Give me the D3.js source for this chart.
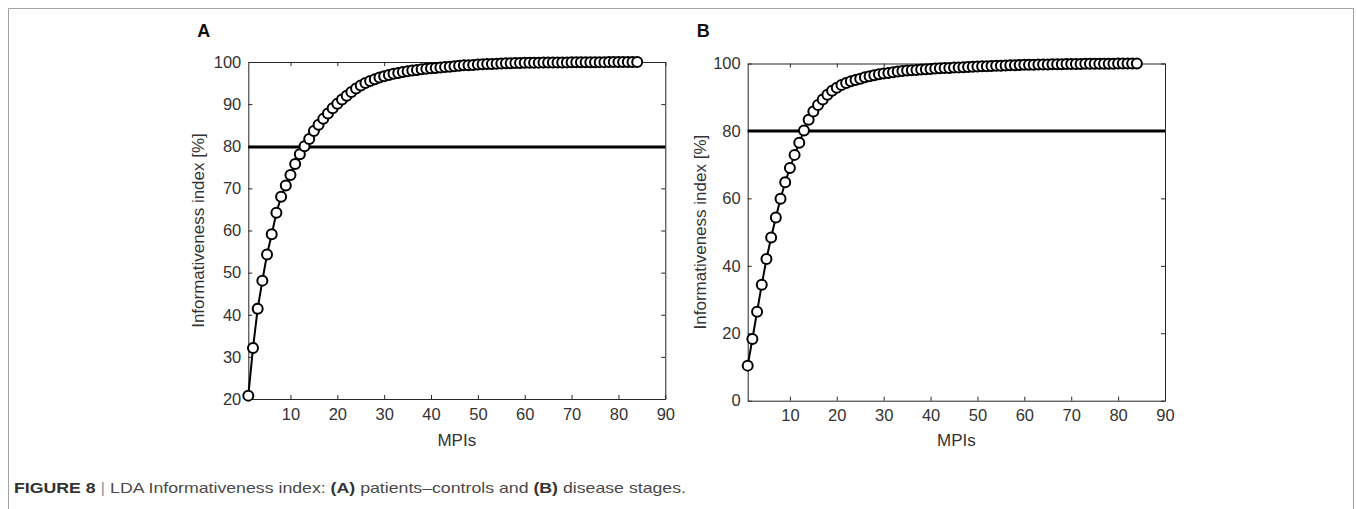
<!DOCTYPE html>
<html>
<head>
<meta charset="utf-8">
<script src="https://cdn.jsdelivr.net/npm/d3@7"></script>
<style>
  body { margin: 0; background: #fff; }
  svg { display: block; }
  .tick text { font-family: "Liberation Sans", Arial, sans-serif; font-size: 16.5px; fill: #333; }
  .axis path, .axis line { stroke: #262626; }
</style>
</head>
<body>
<div id="chart"></div>
<script>
// MPI index (x)
var mpis = [1,2,3,4,5,6,7,8,9,10,11,12,13,14,15,16,17,18,19,20,21,22,23,24,25,26,27,28,29,30,
  31,32,33,34,35,36,37,38,39,40,41,42,43,44,45,46,47,48,49,50,51,52,53,54,55,56,57,58,59,60,
  61,62,63,64,65,66,67,68,69,70,71,72,73,74,75,76,77,78,79,80,81,82,83,84];

// A: patients-controls
var infoA = [20.8,32.1,41.4,48.1,54.3,59.1,64.2,68.0,70.7,73.2,75.8,78.1,80.0,81.7,83.6,85.1,86.5,87.8,89.0,90.1,
  91.1,92.0,92.9,93.7,94.4,95.0,95.5,95.9,96.3,96.6,96.9,97.2,97.4,97.6,97.8,98.0,98.1,98.3,98.4,98.5,
  98.6,98.7,98.8,98.9,99.0,99.1,99.2,99.25,99.3,99.4,99.45,99.5,99.55,99.6,99.65,99.7,99.72,99.75,99.78,99.8,
  99.82,99.84,99.85,99.86,99.87,99.88,99.89,99.9,99.91,99.92,99.93,99.94,99.95,99.96,99.96,99.97,99.97,99.98,99.98,99.99,
  99.99,100,100,100];

// B: disease stages
var infoB = [10.4,18.3,26.4,34.4,42.0,48.4,54.3,59.9,64.8,69.0,72.9,76.5,80.1,83.3,85.8,87.7,89.3,90.7,91.9,92.8,
  93.6,94.2,94.7,95.1,95.5,95.9,96.2,96.5,96.8,97.0,97.2,97.4,97.6,97.8,97.9,98.0,98.1,98.2,98.3,98.4,
  98.5,98.6,98.65,98.7,98.8,98.85,98.9,98.95,99.0,99.1,99.15,99.2,99.25,99.3,99.35,99.4,99.45,99.5,99.55,99.6,
  99.62,99.65,99.67,99.7,99.72,99.75,99.77,99.8,99.82,99.85,99.87,99.88,99.9,99.91,99.92,99.93,99.94,99.95,99.96,99.97,
  99.98,99.99,100,100];

var thresholdA = 79.8;
var thresholdB = 80;

var xTicks = [10,20,30,40,50,60,70,80,90];
var yTicksA = [20,30,40,50,60,70,80,90,100];
var yTicksB = [0,20,40,60,80,100];

var W = 1357, H = 509;
var svg = d3.select("#chart").append("svg").attr("width", W).attr("height", H);

// outer frame (top, left, right)
svg.append("path")
    .attr("d", "M8.5," + H + "V8.5H1353.5V" + H)
    .attr("fill", "none")
    .attr("stroke", "#a0a0a0")
    .attr("stroke-width", 1);

drawPanel({ label: "A", left: 248.3, right: 665.3, top: 62, bottom: 399,
  yDomain: [20, 100], yTicks: yTicksA, values: infoA, threshold: thresholdA, titleX: 198 });
drawPanel({ label: "B", left: 747.7, right: 1165, top: 63.5, bottom: 400.7,
  yDomain: [0, 100], yTicks: yTicksB, values: infoB, threshold: thresholdB, titleX: 700 });

function drawPanel(p) {
  var x = d3.scaleLinear().domain([1, 90]).range([p.left, p.right]);
  var y = d3.scaleLinear().domain(p.yDomain).range([p.bottom, p.top]);
  var g = svg.append("g");

  // box axes with inward ticks
  g.append("g").attr("class", "axis")
      .attr("transform", "translate(0," + p.bottom + ")")
      .call(d3.axisBottom(x).tickValues(xTicks).tickSizeInner(-4).tickSizeOuter(0).tickPadding(9));
  g.append("g").attr("class", "axis")
      .attr("transform", "translate(0," + p.top + ")")
      .call(d3.axisTop(x).tickValues(xTicks).tickSizeInner(-4).tickSizeOuter(0).tickFormat(""));
  g.append("g").attr("class", "axis")
      .attr("transform", "translate(" + p.left + ",0)")
      .call(d3.axisLeft(y).tickValues(p.yTicks).tickSizeInner(-4).tickSizeOuter(0).tickPadding(7));
  g.append("g").attr("class", "axis")
      .attr("transform", "translate(" + p.right + ",0)")
      .call(d3.axisRight(y).tickValues(p.yTicks).tickSizeInner(-4).tickSizeOuter(0).tickFormat(""));
  g.selectAll(".axis .domain").attr("stroke", "#262626");

  // 80% threshold line
  g.append("line")
      .attr("x1", p.left).attr("x2", p.right)
      .attr("y1", y(p.threshold)).attr("y2", y(p.threshold))
      .attr("stroke", "#000").attr("stroke-width", 3);

  var data = mpis.map(function(m, i) { return { m: m, v: p.values[i] }; });
  var line = d3.line()
      .x(function(d) { return x(d.m); })
      .y(function(d) { return y(d.v); });

  g.append("path")
      .datum(data)
      .attr("fill", "none")
      .attr("stroke", "#000")
      .attr("stroke-width", 2)
      .attr("d", line);

  g.selectAll("circle.pt")
      .data(data)
    .enter().append("circle")
      .attr("class", "pt")
      .attr("cx", function(d) { return x(d.m); })
      .attr("cy", function(d) { return y(d.v); })
      .attr("r", 5)
      .attr("fill", "#fff")
      .attr("stroke", "#000")
      .attr("stroke-width", 2);

  // titles
  g.append("text")
      .attr("transform", "translate(" + p.titleX + "," + ((p.top + p.bottom) / 2) + ") rotate(-90)")
      .attr("text-anchor", "middle")
      .attr("dy", "0.35em")
      .style("font-family", "Liberation Sans, Arial, sans-serif")
      .style("font-size", "17px")
      .attr("fill", "#333")
      .text("Informativeness index [%]");
  g.append("text")
      .attr("x", (p.left + p.right) / 2)
      .attr("y", 446)
      .attr("text-anchor", "middle")
      .style("font-family", "Liberation Sans, Arial, sans-serif")
      .style("font-size", "17px")
      .attr("fill", "#333")
      .text("MPIs");
  g.append("text")
      .attr("x", p.left - 51)
      .attr("y", 37)
      .style("font-family", "Liberation Sans, Arial, sans-serif")
      .style("font-size", "18px")
      .style("font-weight", "bold")
      .attr("fill", "#111")
      .text(p.label);
}

// caption
var cap = svg.append("text")
    .attr("x", 14)
    .attr("y", 493)
    .attr("textLength", 672)
    .attr("lengthAdjust", "spacingAndGlyphs")
    .style("font-family", "Liberation Sans Narrow, Arial Narrow, Liberation Sans, sans-serif")
    .style("font-size", "15px")
    .attr("fill", "#4a4a4a");
cap.append("tspan").style("font-weight", "bold").attr("fill", "#333").text("FIGURE 8");
cap.append("tspan").attr("fill", "#999").text(" | ");
cap.append("tspan").text("LDA Informativeness index: ");
cap.append("tspan").style("font-weight", "bold").attr("fill", "#333").text("(A)");
cap.append("tspan").text(" patients\u2013controls and ");
cap.append("tspan").style("font-weight", "bold").attr("fill", "#333").text("(B)");
cap.append("tspan").text(" disease stages.");
</script>
</body>
</html>
